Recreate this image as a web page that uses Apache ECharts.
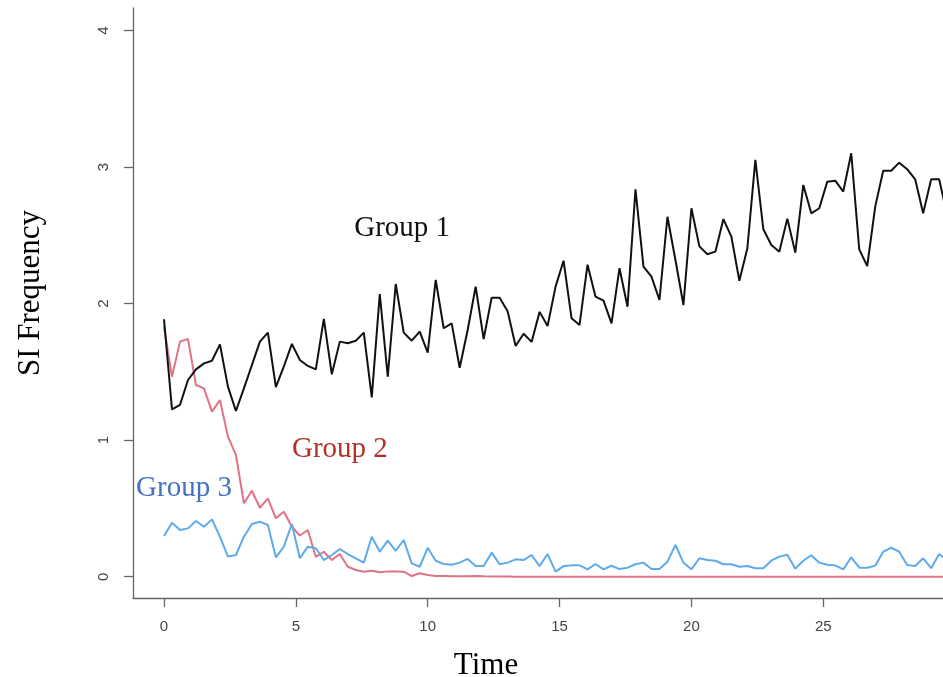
<!DOCTYPE html>
<html>
<head>
<meta charset="utf-8">
<script src="https://cdn.jsdelivr.net/npm/echarts@6/dist/echarts.min.js"></script>
<style>html,body{margin:0;padding:0;background:#fff;}#c{width:943px;height:677px;}</style>
</head>
<body>
<div id="c"></div>
<script>
var timeStep = 30 / 99;
var xTicks = [0, 5, 10, 15, 20, 25, 30];
var yTicks = [0, 1, 2, 3, 4];
var group1 = [1.886,1.226,1.258,1.441,1.519,1.563,1.582,1.702,1.392,1.214,
1.38,1.55,1.722,1.788,1.388,1.54,1.705,1.588,1.544,1.519,
1.889,1.483,1.722,1.71,1.729,1.788,1.314,2.071,1.465,2.144,
1.788,1.729,1.795,1.641,2.174,1.82,1.856,1.531,1.807,2.125,
1.741,2.044,2.044,1.945,1.69,1.78,1.72,1.94,1.837,2.125,
2.315,1.893,1.844,2.286,2.051,2.022,1.856,2.26,1.978,2.838,
2.271,2.198,2.027,2.637,2.32,1.99,2.699,2.42,2.362,2.381,
2.62,2.491,2.168,2.406,3.053,2.545,2.43,2.381,2.623,2.374,
2.87,2.662,2.699,2.894,2.901,2.821,3.102,2.398,2.276,2.711,
2.974,2.974,3.033,2.985,2.911,2.662,2.911,2.911,2.65,2.8];
var group2 = [1.83,1.465,1.722,1.741,1.404,1.38,1.209,1.294,1.026,0.892,
0.538,0.63,0.505,0.574,0.428,0.476,0.366,0.302,0.342,0.145,
0.183,0.122,0.166,0.073,0.049,0.037,0.044,0.032,0.039,0.039,
0.037,0.005,0.025,0.013,0.006,0.005,0.004,0.003,0.004,0.005,
0.003,0.002,0.002,0.001,0,0,0,0,0,0,
0,0,0,0,0,0,0,0,0,0,
0,0,0,0,0,0,0,0,0,0,
0,0,0,0,0,0,0,0,0,0,
0,0,0,0,0,0,0,0,0,0,
0,0,0,0,0,0,0,0,0,0];
var group3 = [0.298,0.396,0.342,0.354,0.408,0.366,0.42,0.293,0.147,0.159,
0.293,0.386,0.403,0.379,0.142,0.22,0.386,0.135,0.22,0.208,
0.122,0.159,0.203,0.166,0.135,0.103,0.293,0.183,0.264,0.19,
0.269,0.098,0.073,0.212,0.117,0.093,0.088,0.103,0.13,0.078,
0.078,0.176,0.091,0.103,0.127,0.122,0.159,0.078,0.166,0.037,
0.078,0.083,0.083,0.054,0.093,0.054,0.08,0.056,0.066,0.091,
0.103,0.056,0.056,0.11,0.232,0.103,0.054,0.135,0.122,0.117,
0.091,0.091,0.073,0.078,0.062,0.062,0.117,0.147,0.161,0.059,
0.117,0.157,0.103,0.088,0.083,0.054,0.142,0.066,0.066,0.081,
0.183,0.212,0.183,0.086,0.078,0.135,0.062,0.166,0.12,0.1];
var labels = [
  {name: 'Group 1', t: 9.03, v: 2.555, color: '#111111'},
  {name: 'Group 2', t: 6.67, v: 0.935, color: '#B3312B'},
  {name: 'Group 3', t: 0.76, v: 0.65, color: '#4472C4'}
];

function toPairs(arr) { return arr.map(function (v, i) { return [i * timeStep, v]; }); }

var chart = echarts.init(document.getElementById('c'), null, {renderer: 'canvas'});
var axisCol = '#666';
function mp(l) {
  return {
    symbol: 'circle', symbolSize: 0,
    silent: true,
    data: [{coord: [l.t, l.v], value: l.name}],
    label: {show: true, position: 'inside', formatter: l.name, color: l.color,
      fontFamily: 'Liberation Serif', fontSize: 29}
  };
}
chart.setOption({
  animation: false,
  grid: {left: 133, right: 0, top: 8, bottom: 79, containLabel: false, outerBoundsMode: 'none'},
  xAxis: {
    type: 'value', min: -1.1756, max: 29.54,
    name: 'Time', nameLocation: 'middle', nameGap: 52,
    nameTextStyle: {fontFamily: 'Liberation Serif', fontSize: 31, color: '#000', padding: [0, 104, 0, 0]},
    axisLine: {show: true, onZero: false, lineStyle: {color: axisCol, width: 1.3}},
    axisTick: {show: true, length: 9, lineStyle: {color: axisCol, width: 1.3}, customValues: xTicks},
    axisLabel: {show: true, margin: 21, color: '#444', fontFamily: 'Liberation Sans', fontSize: 15, customValues: xTicks},
    splitLine: {show: false}
  },
  yAxis: {
    type: 'value', min: -0.156, max: 4.166,
    name: 'SI Frequency', nameLocation: 'middle', nameGap: 87, nameRotate: 90,
    nameTextStyle: {fontFamily: 'Liberation Serif', fontSize: 31, color: '#000', padding: [0, 0, 0, 20]},
    axisLine: {show: true, onZero: false, lineStyle: {color: axisCol, width: 1.3}},
    axisTick: {show: true, length: 9, lineStyle: {color: axisCol, width: 1.3}, customValues: yTicks},
    axisLabel: {show: true, margin: 22, rotate: 90, color: '#444', fontFamily: 'Liberation Sans', fontSize: 15, customValues: yTicks},
    splitLine: {show: false}
  },
  series: [
    {type: 'line', data: toPairs(group1), showSymbol: false, lineStyle: {color: '#111', width: 2}, itemStyle: {color: '#111'}, markPoint: mp(labels[0]), z: 3},
    {type: 'line', data: toPairs(group2), showSymbol: false, lineStyle: {color: '#E07385', width: 2}, itemStyle: {color: '#E07385'}, markPoint: mp(labels[1]), z: 2},
    {type: 'line', data: toPairs(group3), showSymbol: false, lineStyle: {color: '#5EAAEA', width: 2}, itemStyle: {color: '#5EAAEA'}, markPoint: mp(labels[2]), z: 2}
  ]
});
</script>
</body>
</html>
